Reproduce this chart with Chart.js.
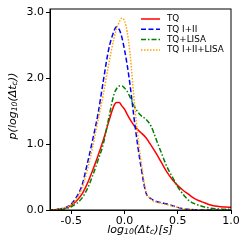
<!DOCTYPE html>
<html>
<head>
<meta charset="utf-8">
<script src="https://cdn.jsdelivr.net/npm/chart.js@4"></script>
<style>
  html, body { margin: 0; padding: 0; background: #fff; }
  #wrap { width: 249px; height: 249px; }
</style>
</head>
<body>
<div id="wrap"><canvas id="c" width="249" height="249"></canvas></div>
<script>
// x grid (log10 of delta t_c)
const xs = [-0.7, -0.65, -0.6, -0.55, -0.5, -0.45, -0.4, -0.35, -0.3, -0.25, -0.2, -0.15, -0.1, -0.075,
            -0.05, -0.025, 0, 0.025, 0.05, 0.1, 0.15, 0.2, 0.25, 0.3, 0.35, 0.4, 0.45, 0.5, 0.55, 0.6,
            0.65, 0.7, 0.75, 0.8, 0.85, 0.9, 0.95, 1.0];

const tq = [0.0, 0.005, 0.015, 0.03, 0.07, 0.14, 0.24, 0.4, 0.6, 0.82, 1.06, 1.33, 1.58, 1.63,
            1.63, 1.58, 1.53, 1.45, 1.38, 1.26, 1.18, 1.1, 0.98, 0.85, 0.71, 0.57, 0.46, 0.37, 0.3,
            0.24, 0.18, 0.14, 0.11, 0.08, 0.06, 0.05, 0.045, 0.04];
const tq12 = [0.0, 0.005, 0.02, 0.04, 0.09, 0.2, 0.37, 0.7, 1.06, 1.45, 1.95, 2.43, 2.71, 2.78,
              2.74, 2.62, 2.43, 2.2, 1.92, 1.26, 0.7, 0.27, 0.17, 0.13, 0.11, 0.09, 0.065, 0.04, 0.02,
              0.01, 0.005, 0, 0, 0, 0, 0, 0, 0];
const tqLisa = [0.0, 0.003, 0.01, 0.02, 0.05, 0.1, 0.18, 0.32, 0.52, 0.75, 1.0, 1.38, 1.75, 1.84,
                1.88, 1.88, 1.85, 1.8, 1.72, 1.55, 1.44, 1.38, 1.27, 1.06, 0.85, 0.65, 0.5, 0.35, 0.24,
                0.15, 0.1, 0.07, 0.045, 0.03, 0.02, 0.015, 0.01, 0.01];
const tq12Lisa = [0.0, 0.005, 0.02, 0.04, 0.08, 0.17, 0.33, 0.6, 0.95, 1.35, 1.75, 2.2, 2.6, 2.75,
                  2.85, 2.91, 2.87, 2.7, 2.4, 1.5, 0.8, 0.3, 0.16, 0.12, 0.1, 0.08, 0.06, 0.04, 0.02,
                  0.01, 0.005, 0, 0, 0, 0, 0, 0, 0];

const xTicks = [-0.5, 0.0, 0.5, 1.0];
const yTicks = [0, 1, 2, 3];

const pts = arr => arr.map((v, i) => ({ x: xs[i], y: v }));

const data = {
    datasets: [
        { label: 'TQ', data: pts(tq), borderColor: 'red', borderWidth: 1.5, order: 4 },
        { label: 'TQ I+II', data: pts(tq12), borderColor: 'blue', borderWidth: 1.5, borderDash: [5, 2.5], order: 3 },
        { label: 'TQ+LISA', data: pts(tqLisa), borderColor: 'green', borderWidth: 1.5, borderDash: [5, 2, 1.5, 2], order: 2 },
        { label: 'TQ I+II+LISA', data: pts(tq12Lisa), borderColor: 'orange', borderWidth: 1.5, borderDash: [1.5, 1.5], order: 1 }
    ]
};

// draws text runs with subscripts
function richText(ctx, runs, size) {
    let w = 0;
    runs.forEach(r => {
        ctx.font = 'italic ' + (r.sub ? size * 0.7 : size) + 'px "DejaVu Sans"';
        w += ctx.measureText(r.t).width;
    });
    let x = -w / 2;
    runs.forEach(r => {
        ctx.font = 'italic ' + (r.sub ? size * 0.7 : size) + 'px "DejaVu Sans"';
        ctx.fillText(r.t, x, r.sub ? 2.5 : 0);
        x += ctx.measureText(r.t).width;
    });
}

const extras = {
    id: 'extras',
    afterDraw(chart) {
        const ctx = chart.ctx;
        const a = chart.chartArea;
        ctx.save();
        // frame
        ctx.strokeStyle = '#000';
        ctx.lineWidth = 1;
        ctx.strokeRect(a.left, a.top, a.right - a.left, a.bottom - a.top);
        // axis titles
        ctx.fillStyle = '#000';
        ctx.textBaseline = 'middle';
        ctx.textAlign = 'left';
        ctx.save();
        ctx.translate(140, 230);
        richText(ctx, [{ t: 'log' }, { t: '10', sub: true }, { t: '(Δt' }, { t: 'c', sub: true }, { t: ')[s]' }], 11);
        ctx.restore();
        ctx.save();
        ctx.translate(13, 106);
        ctx.rotate(-Math.PI / 2);
        richText(ctx, [{ t: 'p(log' }, { t: '10', sub: true }, { t: '(Δt' }, { t: 'c', sub: true }, { t: '))' }], 11);
        ctx.restore();
        // legend
        ctx.font = '8.8px "DejaVu Sans"';
        chart.data.datasets.forEach((ds, i) => {
            const y = 19 + i * 10.3;
            ctx.strokeStyle = ds.borderColor;
            ctx.lineWidth = 1.5;
            ctx.setLineDash(ds.borderDash || []);
            ctx.beginPath();
            ctx.moveTo(141, y);
            ctx.lineTo(160, y);
            ctx.stroke();
            ctx.setLineDash([]);
            ctx.fillStyle = '#000';
            ctx.fillText(ds.label, 167, y);
        });
        ctx.restore();
    }
};

new Chart(document.getElementById('c'), {
    type: 'line',
    data: data,
    options: {
        responsive: false,
        animation: false,
        devicePixelRatio: 1,
        layout: { padding: { top: 9, right: 18, left: 0, bottom: 0 } },
        elements: { point: { radius: 0 }, line: { tension: 0.4, cubicInterpolationMode: 'monotone', fill: false } },
        plugins: { legend: { display: false }, tooltip: { enabled: false } },
        scales: {
            x: {
                type: 'linear', min: -0.7, max: 1.0,
                afterFit: s => { s.height = 39; },
                afterBuildTicks: s => { s.ticks = xTicks.map(v => ({ value: v })); },
                grid: { drawOnChartArea: false, drawTicks: true, tickLength: 4, color: '#000' },
                border: { color: '#000', width: 1 },
                ticks: { color: '#000', font: { family: 'DejaVu Sans', size: 11 }, padding: 1, maxRotation: 0,
                         callback: v => v.toFixed(1) }
            },
            y: {
                min: 0, max: 3.05,
                afterFit: s => { s.width = 50; },
                afterBuildTicks: s => { s.ticks = yTicks.map(v => ({ value: v })); },
                grid: { drawOnChartArea: false, drawTicks: true, tickLength: 4, color: '#000' },
                border: { color: '#000', width: 1 },
                ticks: { color: '#000', font: { family: 'DejaVu Sans', size: 11 }, padding: 2,
                         callback: v => v.toFixed(1) }
            }
        }
    },
    plugins: [extras]
});
</script>
</body>
</html>
